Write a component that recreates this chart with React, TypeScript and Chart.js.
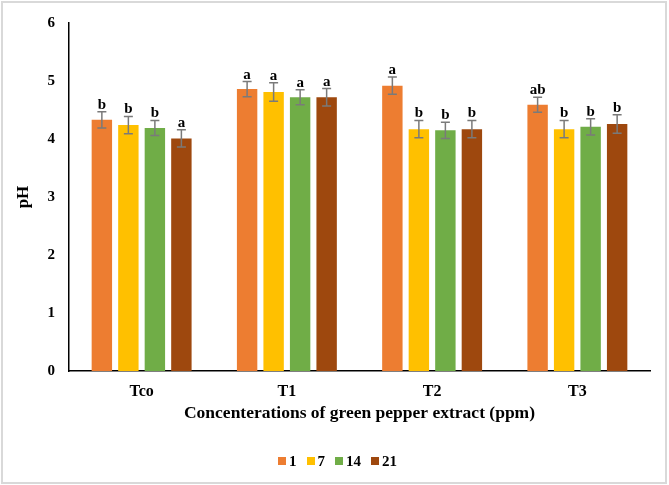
import React, { useEffect, useRef } from "react";
import { Chart, registerables } from "chart.js";

Chart.register(...registerables);

const categories = ["Tco", "T1", "T2", "T3"];
const seriesLabels = ["1", "7", "14", "21"];
const day1 = [4.33, 4.86, 4.92, 4.59];
const day7 = [4.24, 4.81, 4.17, 4.17];
const day14 = [4.19, 4.72, 4.15, 4.21];
const day21 = [4.01, 4.72, 4.17, 4.26];
const err1 = [0.14, 0.13, 0.15, 0.13];
const err7 = [0.15, 0.16, 0.15, 0.15];
const err14 = [0.13, 0.13, 0.14, 0.14];
const err21 = [0.15, 0.15, 0.15, 0.16];
const letters1 = ["b", "a", "a", "ab"];
const letters7 = ["b", "a", "b", "b"];
const letters14 = ["b", "a", "b", "b"];
const letters21 = ["a", "a", "b", "b"];
const colors = ["#ED7D31", "#FFC000", "#70AD47", "#9E480E"];

const values = [day1, day7, day14, day21];
const errors = [err1, err7, err14, err21];
const letters = [letters1, letters7, letters14, letters21];

const FONT = '"Liberation Serif", "Times New Roman", serif';

const errorBarPlugin = {
  id: "errorBars",
  afterDatasetsDraw(chart: any) {
    const ctx = chart.ctx;
    const y = chart.scales.y;
    chart.data.datasets.forEach((ds: any, di: number) => {
      const meta = chart.getDatasetMeta(di);
      meta.data.forEach((bar: any, i: number) => {
        const v = ds.data[i];
        const e = errors[di][i];
        const top = y.getPixelForValue(v + e);
        const bot = y.getPixelForValue(v - e);
        const x = bar.x;
        ctx.save();
        ctx.strokeStyle = "#7a7a7a";
        ctx.lineWidth = 1.5;
        ctx.beginPath();
        ctx.moveTo(x, top);
        ctx.lineTo(x, bot);
        ctx.moveTo(x - 4.5, top);
        ctx.lineTo(x + 4.5, top);
        ctx.moveTo(x - 4.5, bot);
        ctx.lineTo(x + 4.5, bot);
        ctx.stroke();
        ctx.fillStyle = "#000";
        ctx.font = `bold 15px ${FONT}`;
        ctx.textAlign = "center";
        ctx.textBaseline = "alphabetic";
        ctx.fillText(letters[di][i], x, top - 3);
        ctx.restore();
      });
    });
  },
};

export default function App() {
  const ref = useRef<HTMLCanvasElement | null>(null);
  useEffect(() => {
    if (!ref.current) return;
    const chart = new Chart(ref.current, {
      type: "bar",
      data: {
        labels: categories,
        datasets: values.map((vals, i) => ({
          label: seriesLabels[i],
          data: vals,
          backgroundColor: colors[i],
          borderWidth: 0,
          barPercentage: 0.77,
          categoryPercentage: 0.73,
        })),
      },
      options: {
        responsive: false,
        animation: false,
        devicePixelRatio: 1,
        layout: { padding: { left: 0, right: 19, top: 21, bottom: 43 } },
        plugins: {
          legend: { display: false },
          tooltip: { enabled: false },
        },
        scales: {
          x: {
            grid: { display: false, drawTicks: false },
            border: { display: true, color: "#000", width: 1.5 },
            ticks: {
              color: "#000",
              padding: 11,
              font: { family: FONT, size: 16, weight: "bold" },
            },
            title: {
              display: true,
              text: "Concenterations of green pepper extract (ppm)",
              color: "#000",
              font: { family: FONT, size: 17.5, weight: "bold" },
              padding: { top: 4, bottom: 18 },
            },
            afterFit: (s: any) => {
              s.height = 71;
            },
          },
          y: {
            min: 0,
            max: 6,
            grid: { display: false, drawTicks: false },
            border: { display: true, color: "#000", width: 1.5 },
            ticks: {
              stepSize: 1,
              color: "#000",
              padding: 14,
              font: { family: FONT, size: 15, weight: "bold" },
            },
            title: {
              display: true,
              text: "pH",
              color: "#000",
              font: { family: FONT, size: 17, weight: "bold" },
              padding: { top: 13, bottom: 0 },
            },
            afterFit: (s: any) => {
              s.width = 69;
            },
          },
        },
      },
      plugins: [errorBarPlugin],
    } as any);
    return () => chart.destroy();
  }, []);
  return (
    <div style={{ position: "absolute", left: 0, top: 0, width: 669, height: 485, background: "#fff" }}>
      <canvas ref={ref} width={669} height={485} style={{ display: "block", width: 669, height: 485 }} />
      <div
        style={{
          position: "absolute",
          left: 278,
          top: 453,
          height: 16,
          display: "flex",
          alignItems: "center",
          fontFamily: FONT,
          fontWeight: "bold",
          fontSize: 15,
          lineHeight: "16px",
          color: "#000",
          whiteSpace: "nowrap",
        }}
      >
        {seriesLabels.map((lab, i) => (
          <div key={lab} style={{ display: "flex", alignItems: "center", marginRight: i < seriesLabels.length - 1 ? 10 : 0 }}>
            <span style={{ display: "inline-block", width: 8, height: 8, background: colors[i], marginRight: 3 }} />
            <span>{lab}</span>
          </div>
        ))}
      </div>
      <div
        style={{
          position: "absolute",
          left: 1,
          top: 1,
          width: 666,
          height: 483,
          border: "2px solid #d9d9d9",
          boxSizing: "border-box",
          pointerEvents: "none",
        }}
      />
    </div>
  );
}
